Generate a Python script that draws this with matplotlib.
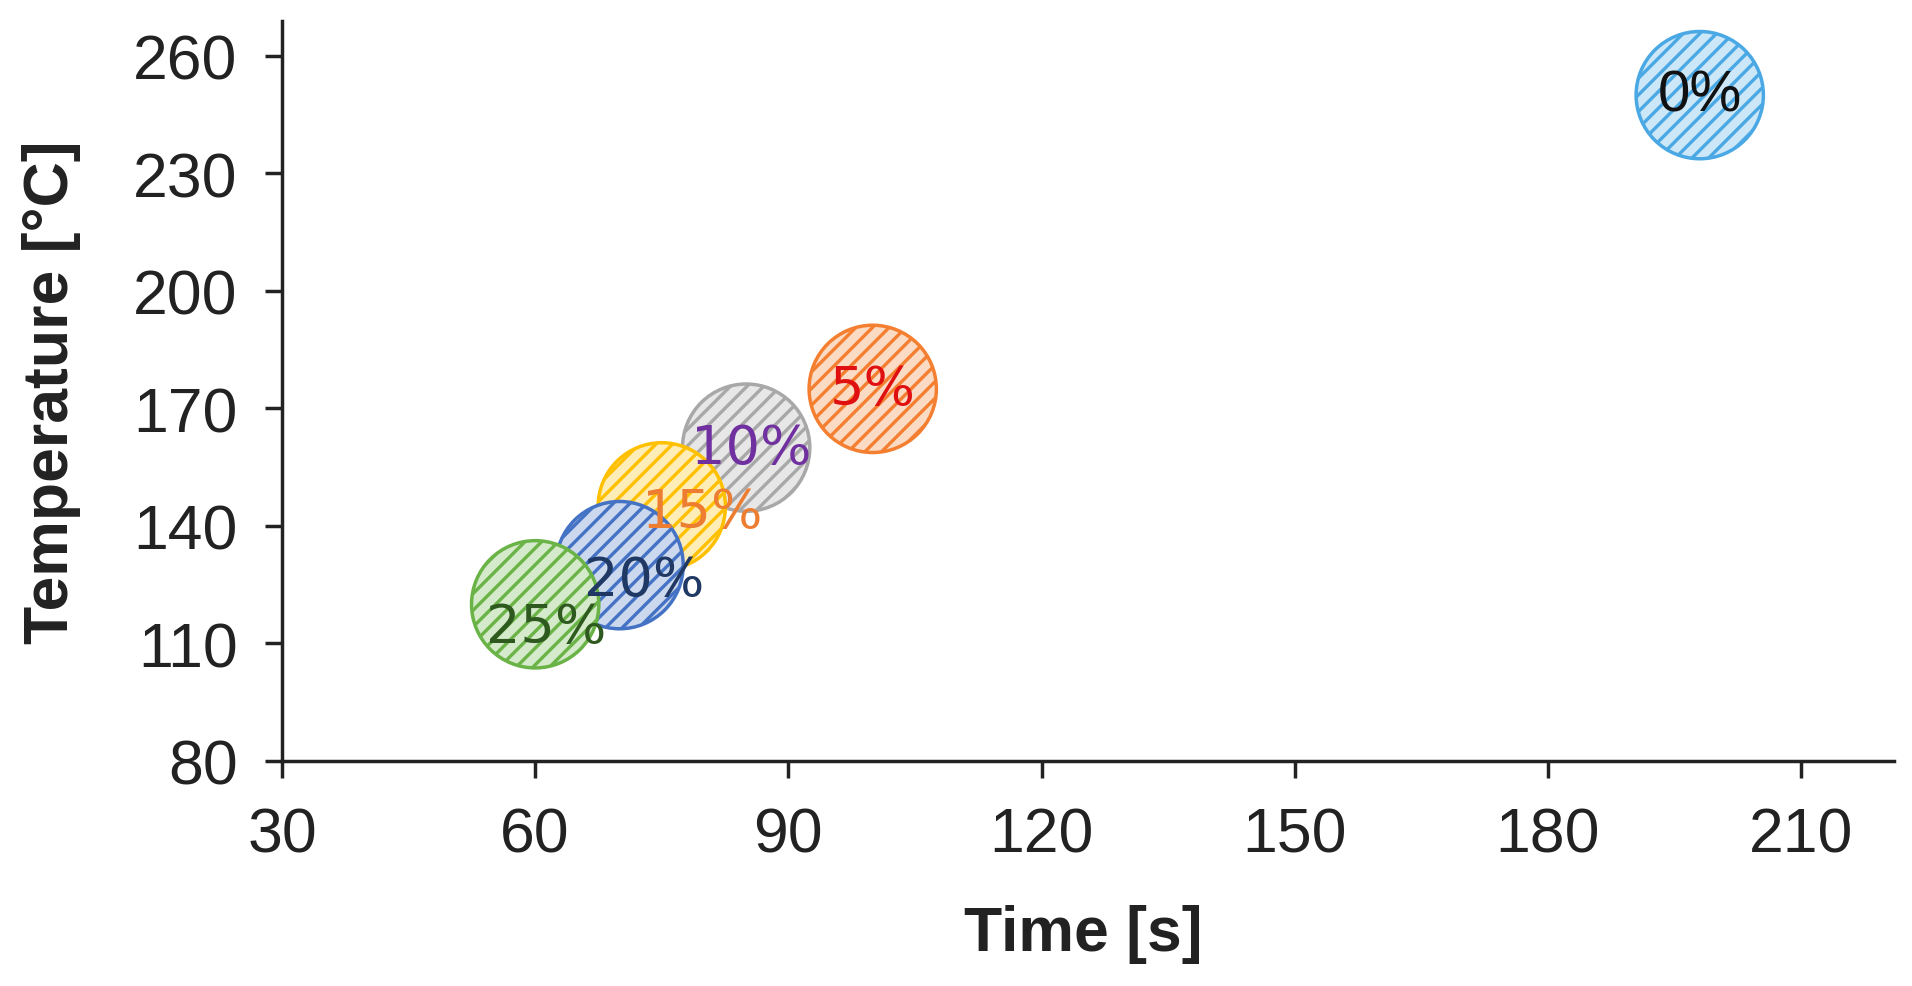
import matplotlib
matplotlib.use("Agg")
import matplotlib.pyplot as plt
from matplotlib.colors import to_rgb

labels = ["0%", "5%", "10%", "15%", "20%", "25%"]
time_s = [198, 100, 85, 75, 70, 60]
temp_c = [250, 175, 160, 145, 130, 120]
bubble_colors = ["#4AA8E4", "#F47F30", "#A8A8A8", "#FFC000", "#4472C4", "#6AB347"]
text_colors = ["#111111", "#E01010", "#7030A0", "#ED7D31", "#1F3864", "#2F5A1F"]
label_offsets = [(0, 0), (0, 0), (4, 0), (29, -4), (18, -11), (8, -16)]
xticks = [30, 60, 90, 120, 150, 180, 210]
yticks = [80, 110, 140, 170, 200, 230, 260]

plt.rcParams['font.family'] = ['Liberation Sans', 'DejaVu Sans']
plt.rcParams['hatch.linewidth'] = 2.4

fig = plt.figure(figsize=(19.12, 9.87), dpi=100)
ax = fig.add_axes([0.1475, 0.228, 0.843, 0.75])

def tint(c, f=0.72):
    r, g, b = to_rgb(c)
    return (r + (1 - r) * f, g + (1 - g) * f, b + (1 - b) * f)

for i in range(len(labels)):
    ax.scatter([time_s[i]], [temp_c[i]], s=8400, facecolor=tint(bubble_colors[i]),
               edgecolor=bubble_colors[i], linewidth=2.5, hatch='//', zorder=2 + i * 0.1)

for i in range(len(labels)):
    fam = ['Liberation Sans'] if i == 0 else ['DejaVu Sans']
    fs = 42 if i == 0 else 39
    ax.annotate(labels[i], (time_s[i], temp_c[i]), xytext=label_offsets[i],
                textcoords='offset points', ha='center', va='center',
                fontsize=fs, color=text_colors[i], family=fam, zorder=5)

ax.set_xlim(30, 221)
ax.set_ylim(80, 269)
ax.set_xticks(xticks)
ax.set_yticks(yticks)
ax.tick_params(axis='both', labelsize=45, width=2.5, length=12, direction='out',
               pad=20, colors='#222222')
for s in ['top', 'right']:
    ax.spines[s].set_visible(False)
for s in ['left', 'bottom']:
    ax.spines[s].set_linewidth(2.5)
    ax.spines[s].set_color('#222222')

ax.set_xlabel("Time [s]", fontsize=45, fontweight='bold', color='#222222', va='top')
ax.set_ylabel("Temperature [°C]", fontsize=45, fontweight='bold', color='#222222')
ax.xaxis.set_label_coords(0.497, -0.193)
ax.yaxis.set_label_coords(-0.125, 0.5)

fig.savefig("out.png", dpi=100)
